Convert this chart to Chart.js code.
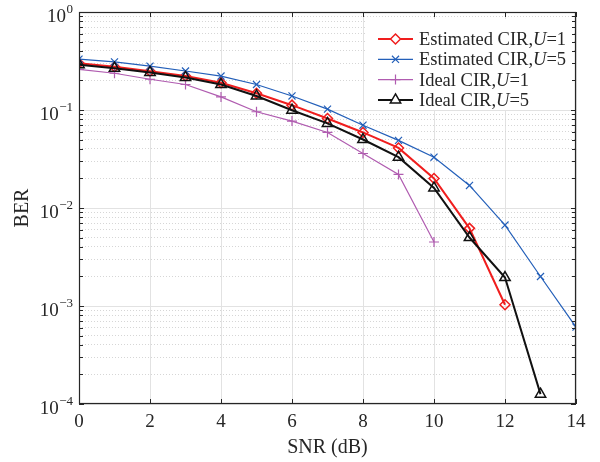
<!DOCTYPE html>
<html>
<head>
<meta charset="utf-8">
<script src="https://cdn.jsdelivr.net/npm/chart.js@4.4.0/dist/chart.umd.min.js"></script>
<style>
  html, body { margin: 0; padding: 0; background: #fff; }
  canvas { display: block; }
</style>
</head>
<body>
<canvas id="ber-chart" width="600" height="462"></canvas>
<script>
// SNR points (dB)
const snr = [0, 1, 2, 3, 4, 5, 6, 7, 8, 9, 10, 11, 12, 13, 14]

// BER
const est_u1 = [0.30, 0.276, 0.249, 0.222, 0.19, 0.148, 0.112, 0.082, 0.059, 0.041, 0.020, 0.0062, 0.00103]
const est_u5 = [0.33, 0.31, 0.28, 0.25, 0.222, 0.182, 0.139, 0.102, 0.070, 0.049, 0.033, 0.017, 0.0067, 0.0020, 0.00061]
const ideal_u1 = [0.26, 0.237, 0.206, 0.182, 0.136, 0.096, 0.077, 0.059, 0.036, 0.022, 0.0045]
const ideal_u5 = [0.29, 0.267, 0.242, 0.215, 0.182, 0.139, 0.0995, 0.073, 0.050, 0.033, 0.016, 0.0050, 0.00195, 0.000126]

const legend_names = ["Estimated CIR,", "Estimated CIR,", "Ideal CIR,", "Ideal CIR,"]
const legend_u = ["=1", "=5", "=1", "=5"]

const x_ticks = [0, 2, 4, 6, 8, 10, 12, 14]
const decades = [0, -1, -2, -3, -4]

const FONT = "'Liberation Serif', 'Times New Roman', serif"
const AXIS_COLOR = "#262626"

function pts(ys) {
    return ys.map((v, i) => ({ x: snr[i], y: v }))
}

// log ticks: 1..9 x 10^n
const y_ticks = []
for (let p = -4; p <= 0; p++) {
    for (let m = 1; m <= 9; m++) {
        if (p === 0 && m > 1) break
        y_ticks.push({ value: m * Math.pow(10, p), major: m === 1 })
    }
}

const frame_plugin = {
    id: 'frame',
    afterDraw(chart) {
        const ctx = chart.ctx
        const a = chart.chartArea
        const xs = chart.scales.x
        const ys = chart.scales.y
        ctx.save()

        // inward ticks
        ctx.strokeStyle = AXIS_COLOR
        ctx.lineWidth = 1
        ctx.beginPath()
        for (const t of x_ticks) {
            const px = Math.round(xs.getPixelForValue(t)) + 0.5
            ctx.moveTo(px, a.bottom); ctx.lineTo(px, a.bottom - 5)
            ctx.moveTo(px, a.top); ctx.lineTo(px, a.top + 5)
        }
        for (const t of y_ticks) {
            const py = Math.round(ys.getPixelForValue(t.value)) + 0.5
            const len = t.major ? 5 : 4
            ctx.moveTo(a.left, py); ctx.lineTo(a.left + len, py)
            ctx.moveTo(a.right, py); ctx.lineTo(a.right - len, py)
        }
        ctx.stroke()

        // box
        ctx.lineWidth = 1.2
        ctx.strokeRect(a.left + 0.5, a.top + 0.5, a.right - a.left - 1, a.bottom - a.top - 1)

        // y labels 10^n
        ctx.fillStyle = AXIS_COLOR
        ctx.textBaseline = 'alphabetic'
        for (const p of decades) {
            const py = ys.getPixelForValue(Math.pow(10, p))
            const ex = p === 0 ? "0" : "\u2212" + (-p)
            ctx.font = "13px " + FONT
            const ew = ctx.measureText(ex).width
            const right = 73
            ctx.textAlign = 'left'
            ctx.fillText(ex, right - ew, py + 1)
            ctx.font = "19px " + FONT
            ctx.textAlign = 'right'
            ctx.fillText("10", right - ew - 0.5, py + 9.5)
        }

        // legend
        ctx.fillStyle = '#fff'
        ctx.fillRect(365, 19, 207, 91)
        chart.data.datasets.forEach((ds, i) => {
            const y = 39 + i * 20.3
            ctx.strokeStyle = ds.borderColor
            ctx.lineWidth = ds.borderWidth
            ctx.beginPath()
            ctx.moveTo(378, y); ctx.lineTo(413, y)
            ctx.stroke()
            ctx.fillStyle = '#fff'
            ctx.lineWidth = ds.pointBorderWidth
            Chart.helpers.drawPoint(ctx, {
                pointStyle: ds.pointStyle,
                radius: ds.pointRadius,
                rotation: 0,
                borderWidth: ds.pointBorderWidth
            }, 395.5, y)
            ctx.fillStyle = AXIS_COLOR
            ctx.textAlign = 'left'
            ctx.textBaseline = 'alphabetic'
            let tx = 419
            const by = y + 6
            ctx.font = "18.5px " + FONT
            ctx.fillText(legend_names[i], tx, by)
            tx += ctx.measureText(legend_names[i]).width
            ctx.font = "italic 18.5px " + FONT
            ctx.fillText("U", tx, by)
            tx += ctx.measureText("U").width
            ctx.font = "18.5px " + FONT
            ctx.fillText(legend_u[i], tx, by)
        })
        ctx.restore()
    }
}

function series(label, data, color, width, style, radius, order) {
    return {
        label: label,
        data: pts(data),
        showLine: true,
        borderColor: color,
        backgroundColor: 'rgba(0,0,0,0)',
        borderWidth: width,
        pointStyle: style,
        pointRadius: radius,
        pointBorderColor: color,
        pointBackgroundColor: 'rgba(0,0,0,0)',
        pointBorderWidth: width === 2 ? 1.5 : 1.2,
        tension: 0,
        order: order,
    }
}

const data = {
    datasets: [
        series('Estimated CIR,U=1', est_u1, '#f01e1e', 2, 'rectRot', 5, 4),
        series('Estimated CIR,U=5', est_u5, '#235fb9', 1.2, 'crossRot', 5, 3),
        series('Ideal CIR,U=1', ideal_u1, '#b05cb0', 1.2, 'cross', 5, 2),
        series('Ideal CIR,U=5', ideal_u5, '#111111', 2, 'triangle', 6, 1),
    ]
}

const config = {
    type: 'scatter',
    data: data,
    options: {
        responsive: false,
        animation: false,
        layout: { padding: { left: 0, right: 24, top: 12, bottom: 0 } },
        plugins: {
            legend: { display: false },
            tooltip: { enabled: false },
        },
        scales: {
            x: {
                type: 'linear',
                min: 0,
                max: 14,
                afterBuildTicks: (scale) => { scale.ticks = x_ticks.map(v => ({ value: v })) },
                afterFit: (scale) => { scale.height = 58 },
                grid: { color: '#e2e2e2', lineWidth: 1, drawTicks: false },
                border: { display: false },
                ticks: {
                    color: AXIS_COLOR,
                    font: { family: FONT, size: 19 },
                    padding: 7,
                    maxRotation: 0,
                },
                title: {
                    display: true,
                    text: 'SNR (dB)',
                    color: AXIS_COLOR,
                    font: { family: FONT, size: 20 },
                    padding: { top: 0, bottom: 2 },
                },
            },
            y: {
                type: 'logarithmic',
                min: 0.0001,
                max: 1,
                afterBuildTicks: (scale) => { scale.ticks = y_ticks.map(t => ({ value: t.value, major: t.major })) },
                afterFit: (scale) => { scale.width = 79 },
                grid: {
                    drawTicks: false,
                    color: (c) => (c.tick && c.tick.major) ? '#e2e2e2' : '#d6d6d6',
                    lineWidth: 1,
                },
                border: {
                    display: false,
                    dash: (c) => (c.tick && c.tick.major) ? [] : [1, 2],
                },
                ticks: { display: false },
                title: {
                    display: true,
                    text: 'BER',
                    color: AXIS_COLOR,
                    font: { family: FONT, size: 20 },
                    padding: { top: 11, bottom: 0 },
                },
            },
        },
    },
    plugins: [frame_plugin],
}

const ber_chart = new Chart(document.getElementById('ber-chart').getContext('2d'), config)
</script>
</body>
</html>
